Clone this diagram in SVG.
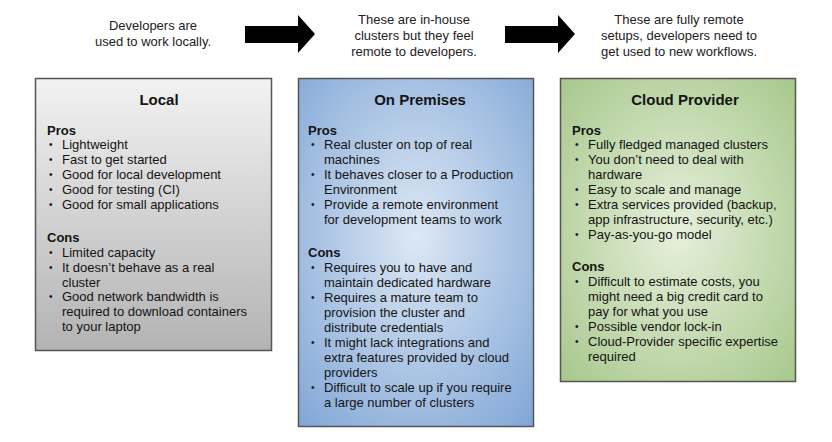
<svg xmlns="http://www.w3.org/2000/svg" width="832" height="442" viewBox="0 0 832 442">
<defs>
<linearGradient id="gGray" x1="0" y1="0" x2="0" y2="1">
<stop offset="0" stop-color="#f2f2f2"/>
<stop offset="1" stop-color="#b3b3b3"/>
</linearGradient>
<radialGradient id="gBlue" cx="0.5" cy="0.45" r="0.75">
<stop offset="0" stop-color="#dde8f4"/>
<stop offset="1" stop-color="#7fa5d6"/>
</radialGradient>
<radialGradient id="gGreen" cx="0.5" cy="0.5" r="0.75">
<stop offset="0" stop-color="#e6f0dc"/>
<stop offset="1" stop-color="#a3c586"/>
</radialGradient>
</defs>
<style>
text { font-family: "Liberation Sans", Arial, sans-serif; fill: #141414; }
.cap { font-size: 13px; fill: #222; text-anchor: middle; }
.title { font-size: 15px; font-weight: bold; text-anchor: middle; }
.hd { font-size: 13px; font-weight: bold; }
.li { font-size: 13px; }
.bu { font-size: 10px; }
.box { stroke: #555; stroke-width: 1.5; }
.arrow { fill: #000; }
</style>

<g id="captions">
<text class="cap" x="153" y="30">Developers are</text>
<text class="cap" x="153" y="46">used to work locally.</text>
<text class="cap" x="414" y="24">These are in-house</text>
<text class="cap" x="414" y="40">clusters but they feel</text>
<text class="cap" x="414" y="56">remote to developers.</text>
<text class="cap" x="679" y="24">These are fully remote</text>
<text class="cap" x="679" y="40">setups, developers need to</text>
<text class="cap" x="679" y="56">get used to new workflows.</text>
</g>

<g id="connectors">
<polygon class="arrow" points="245,26 298,26 298,15 315,34 298,53 298,43 245,43"/>
<polygon class="arrow" points="505,26 558,26 558,15 575,34 558,53 558,43 505,43"/>
</g>

<g id="local">
<rect class="box" x="35.5" y="78.5" width="236" height="272" fill="url(#gGray)"/>
<text class="title" x="159" y="105">Local</text>
<text class="hd" x="47" y="135">Pros</text>
<text class="bu" x="49" y="148">•</text><text class="li" x="62" y="149">Lightweight</text>
<text class="bu" x="49" y="163">•</text><text class="li" x="62" y="164">Fast to get started</text>
<text class="bu" x="49" y="178">•</text><text class="li" x="62" y="179">Good for local development</text>
<text class="bu" x="49" y="193">•</text><text class="li" x="62" y="194">Good for testing (CI)</text>
<text class="bu" x="49" y="208">•</text><text class="li" x="62" y="209">Good for small applications</text>
<text class="hd" x="47" y="242">Cons</text>
<text class="bu" x="49" y="256">•</text><text class="li" x="62" y="257">Limited capacity</text>
<text class="bu" x="49" y="271">•</text><text class="li" x="62" y="272">It doesn’t behave as a real</text>
<text class="li" x="62" y="287">cluster</text>
<text class="bu" x="49" y="300">•</text><text class="li" x="62" y="301">Good network bandwidth is</text>
<text class="li" x="62" y="316">required to download containers</text>
<text class="li" x="62" y="331">to your laptop</text>
</g>

<g id="on-premises">
<rect class="box" x="298.5" y="78.5" width="235" height="348" fill="url(#gBlue)"/>
<text class="title" x="420" y="105">On Premises</text>
<text class="hd" x="308" y="135">Pros</text>
<text class="bu" x="311" y="148">•</text><text class="li" x="324" y="149">Real cluster on top of real</text>
<text class="li" x="324" y="164">machines</text>
<text class="bu" x="311" y="178">•</text><text class="li" x="324" y="179">It behaves closer to a Production</text>
<text class="li" x="324" y="194">Environment</text>
<text class="bu" x="311" y="208">•</text><text class="li" x="324" y="209">Provide a remote environment</text>
<text class="li" x="324" y="224">for development teams to work</text>
<text class="hd" x="308" y="257">Cons</text>
<text class="bu" x="311" y="271">•</text><text class="li" x="324" y="272">Requires you to have and</text>
<text class="li" x="324" y="287">maintain dedicated hardware</text>
<text class="bu" x="311" y="301">•</text><text class="li" x="324" y="302">Requires a mature team to</text>
<text class="li" x="324" y="317">provision the cluster and</text>
<text class="li" x="324" y="332">distribute credentials</text>
<text class="bu" x="311" y="346">•</text><text class="li" x="324" y="347">It might lack integrations and</text>
<text class="li" x="324" y="362">extra features provided by cloud</text>
<text class="li" x="324" y="377">providers</text>
<text class="bu" x="311" y="391">•</text><text class="li" x="324" y="392">Difficult to scale up if you require</text>
<text class="li" x="324" y="407">a large number of clusters</text>
</g>

<g id="cloud-provider">
<rect class="box" x="560.5" y="78.5" width="235" height="303" fill="url(#gGreen)"/>
<text class="title" x="685" y="105">Cloud Provider</text>
<text class="hd" x="572" y="135">Pros</text>
<text class="bu" x="575" y="148">•</text><text class="li" x="588" y="149">Fully fledged managed clusters</text>
<text class="bu" x="575" y="163">•</text><text class="li" x="588" y="164">You don’t need to deal with</text>
<text class="li" x="588" y="179">hardware</text>
<text class="bu" x="575" y="193">•</text><text class="li" x="588" y="194">Easy to scale and manage</text>
<text class="bu" x="575" y="208">•</text><text class="li" x="588" y="209">Extra services provided (backup,</text>
<text class="li" x="588" y="224">app infrastructure, security, etc.)</text>
<text class="bu" x="575" y="238">•</text><text class="li" x="588" y="239">Pay-as-you-go model</text>
<text class="hd" x="572" y="271">Cons</text>
<text class="bu" x="575" y="285">•</text><text class="li" x="588" y="286">Difficult to estimate costs, you</text>
<text class="li" x="588" y="301">might need a big credit card to</text>
<text class="li" x="588" y="316">pay for what you use</text>
<text class="bu" x="575" y="330">•</text><text class="li" x="588" y="331">Possible vendor lock-in</text>
<text class="bu" x="575" y="345">•</text><text class="li" x="588" y="346">Cloud-Provider specific expertise</text>
<text class="li" x="588" y="361">required</text>
</g>
</svg>
